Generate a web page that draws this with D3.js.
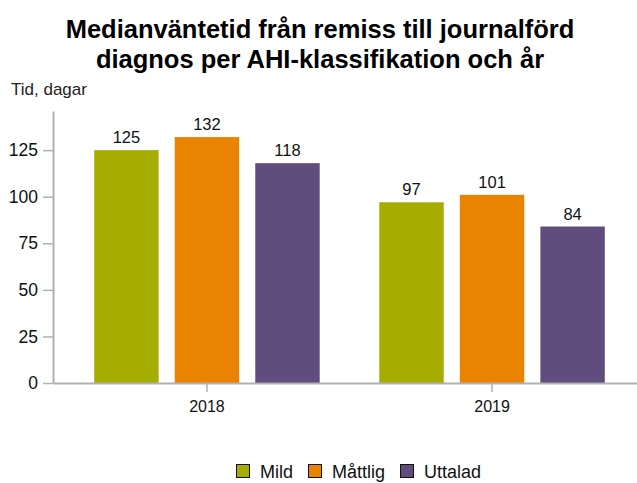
<!DOCTYPE html>
<html>
<head>
<meta charset="utf-8">
<script src="https://cdn.jsdelivr.net/npm/d3@7"></script>
<style>
  body { margin: 0; background: #fff; }
  text { font-family: "Liberation Sans", Arial, sans-serif; }
</style>
</head>
<body>
<div id="container"></div>
<script>
/* DATA */
const years = ["2018", "2019"];
const classes = ["Mild", "Måttlig", "Uttalad"];
const mild = [125, 97];
const mattlig = [132, 101];
const uttalad = [118, 84];
const yTicks = [0, 25, 50, 75, 100, 125];
const colors = ["#a5ad00", "#e98300", "#614d7d"];

/* CONSTANTS */
const width = 637;
const height = 483;
const left = 53;
const bottom = 383;

const rows = years.map((y, i) => ({
  year: y,
  values: [mild[i], mattlig[i], uttalad[i]]
}));

/* SCALES */
const x0 = d3.scaleBand()
  .domain(years)
  .range([left, 646])
  .paddingInner(0)
  .paddingOuter(0.04);

const x1 = d3.scaleBand()
  .domain(classes)
  .range([0, x0.bandwidth()])
  .paddingInner(0.2)
  .paddingOuter(0.37);

const yScale = d3.scaleLinear()
  .domain([0, 146])
  .range([bottom, 111]);

const color = d3.scaleOrdinal().domain(classes).range(colors);

/* SVG */
const svg = d3.select("#container")
  .append("svg")
  .attr("width", width)
  .attr("height", height);

// title
svg.append("text")
  .attr("x", 320)
  .attr("text-anchor", "middle")
  .style("font-size", "25.5px")
  .style("font-weight", "bold")
  .attr("fill", "#000")
  .selectAll("tspan")
  .data(["Medianväntetid från remiss till journalförd", "diagnos per AHI-klassifikation och år"])
  .join("tspan")
  .attr("x", 320)
  .attr("y", (d, i) => 38 + i * 30)
  .text(d => d);

// y label
svg.append("text")
  .attr("x", 11)
  .attr("y", 95)
  .style("font-size", "17px")
  .attr("fill", "#222")
  .text("Tid, dagar");

// bars
const groups = svg.selectAll(".group")
  .data(rows)
  .join("g")
  .attr("class", "group")
  .attr("transform", d => `translate(${x0(d.year)},0)`);

groups.selectAll("rect")
  .data(d => d.values.map((v, i) => ({ key: classes[i], value: v })))
  .join("rect")
  .attr("x", d => x1(d.key))
  .attr("y", d => yScale(d.value))
  .attr("width", x1.bandwidth())
  .attr("height", d => bottom - yScale(d.value))
  .attr("fill", d => color(d.key));

groups.selectAll(".lbl")
  .data(d => d.values.map((v, i) => ({ key: classes[i], value: v })))
  .join("text")
  .attr("class", "lbl")
  .attr("x", d => x1(d.key) + x1.bandwidth() / 2)
  .attr("y", d => yScale(d.value) - 7)
  .attr("text-anchor", "middle")
  .style("font-size", "16.5px")
  .attr("fill", "#111")
  .text(d => d.value);

// y axis
const yAxis = svg.append("g")
  .attr("transform", `translate(${left},0)`)
  .call(d3.axisLeft(yScale).tickValues(yTicks).tickSize(10).tickPadding(5).tickSizeOuter(0));
yAxis.select(".domain").attr("stroke", "#b0b0b0").attr("stroke-width", 2);
yAxis.selectAll(".tick line").attr("stroke", "#b0b0b0").attr("stroke-width", 1.5);
yAxis.selectAll(".tick text")
  .style("font-size", "17.5px")
  .style("font-family", "'Liberation Sans', Arial, sans-serif")
  .attr("fill", "#111");

// x axis
const xAxis = svg.append("g")
  .attr("transform", `translate(0,${bottom})`)
  .call(d3.axisBottom(x0).tickSize(9).tickPadding(9).tickSizeOuter(0));
xAxis.select(".domain").attr("stroke", "#b0b0b0").attr("stroke-width", 2);
xAxis.selectAll(".tick line").attr("stroke", "#b0b0b0").attr("stroke-width", 1.5);
xAxis.selectAll(".tick text")
  .style("font-size", "16px")
  .style("font-family", "'Liberation Sans', Arial, sans-serif")
  .attr("fill", "#111");

// legend
const legend = svg.append("g").attr("transform", "translate(236,464)");
let lx = 0;
classes.forEach(c => {
  const item = legend.append("g").attr("transform", `translate(${lx},0)`);
  item.append("rect")
    .attr("x", 0.5).attr("y", 0.5)
    .attr("width", 13).attr("height", 13)
    .attr("fill", color(c))
    .attr("stroke", "#111")
    .attr("stroke-width", 1);
  const t = item.append("text")
    .attr("x", 24)
    .attr("y", 13.5)
    .style("font-size", "18px")
    .attr("fill", "#111")
    .text(c);
  lx += 24 + t.node().getComputedTextLength() + 15;
});
</script>
</body>
</html>
